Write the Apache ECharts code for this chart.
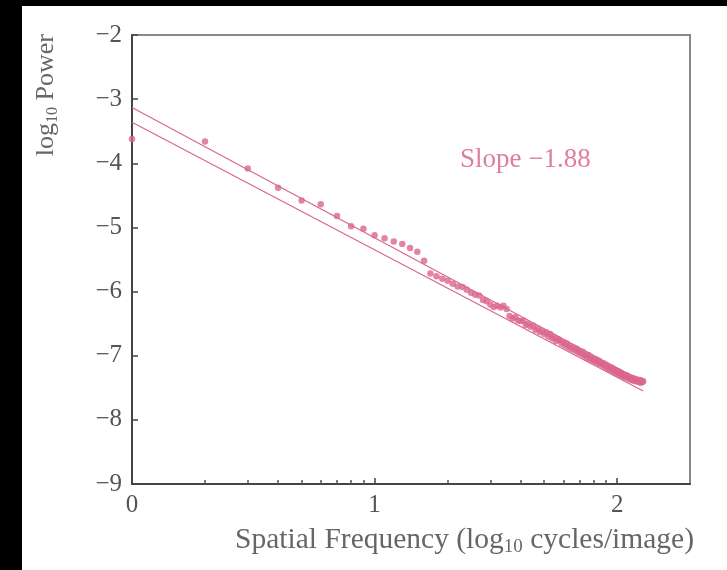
<!DOCTYPE html>
<html>
<head>
<meta charset="utf-8">
<script src="https://cdn.jsdelivr.net/npm/echarts@6/dist/echarts.min.js"></script>
<style>
html,body{margin:0;padding:0;background:#000;}
#chart{width:727px;height:570px;}
</style>
</head>
<body>
<div id="chart"></div>
<script>
// log10 spatial frequency (cycles/image) for each sample
const freqLog = [
0.000,0.301,0.477,0.602,0.699,0.778,0.845,0.903,0.954,1.000,
1.041,1.079,1.114,1.146,1.176,1.204,1.230,1.255,1.279,1.301,
1.322,1.342,1.362,1.380,1.398,1.415,1.431,1.447,1.462,1.477,
1.491,1.505,1.519,1.531,1.544,1.556,1.568,1.580,1.591,1.602,
1.613,1.623,1.633,1.643,1.653,1.663,1.672,1.681,1.690,1.699,
1.708,1.716,1.724,1.732,1.740,1.748,1.756,1.763,1.771,1.778,
1.785,1.792,1.799,1.806,1.813,1.820,1.826,1.833,1.839,1.845,
1.851,1.857,1.863,1.869,1.875,1.881,1.886,1.892,1.898,1.903,
1.908,1.914,1.919,1.924,1.929,1.934,1.940,1.944,1.949,1.954,
1.959,1.964,1.968,1.973,1.978,1.982,1.987,1.991,1.996,2.000,
2.004,2.009,2.013,2.017,2.021,2.025,2.029,2.033,2.037,2.041,
2.045,2.049,2.053,2.057,2.061,2.064,2.068,2.072,2.076,2.079,
2.083,2.086,2.090,2.093,2.097,2.100,2.104,2.107
];
// log10 power for each sample
const powerLog = [
-3.62,-3.66,-4.08,-4.38,-4.58,-4.64,-4.82,-4.98,-5.02,-5.12,
-5.17,-5.22,-5.26,-5.32,-5.38,-5.52,-5.72,-5.76,-5.80,-5.83,
-5.88,-5.92,-5.93,-5.97,-6.02,-6.05,-6.06,-6.13,-6.15,-6.20,
-6.24,-6.22,-6.25,-6.22,-6.27,-6.38,-6.42,-6.40,-6.45,-6.46,
-6.45,-6.52,-6.50,-6.55,-6.53,-6.60,-6.57,-6.63,-6.61,-6.66,
-6.64,-6.70,-6.66,-6.73,-6.71,-6.77,-6.74,-6.76,-6.81,-6.79,
-6.84,-6.81,-6.87,-6.85,-6.90,-6.87,-6.92,-6.89,-6.95,-6.93,
-6.97,-6.94,-7.00,-6.98,-7.03,-6.99,-7.05,-7.02,-7.07,-7.05,
-7.09,-7.06,-7.11,-7.08,-7.13,-7.11,-7.15,-7.12,-7.17,-7.14,
-7.19,-7.17,-7.21,-7.18,-7.23,-7.20,-7.25,-7.22,-7.27,-7.24,
-7.28,-7.25,-7.30,-7.27,-7.31,-7.29,-7.33,-7.30,-7.34,-7.31,
-7.35,-7.33,-7.37,-7.34,-7.38,-7.35,-7.39,-7.36,-7.40,-7.37,
-7.40,-7.38,-7.41,-7.38,-7.42,-7.39,-7.41,-7.40
];
// fitted lines: [x, y] end points
const upperFitX = [0, 2.107];
const upperFitY = [-3.13, -7.41];
const lowerFitX = [0, 2.107];
const lowerFitY = [-3.36, -7.55];
// axis ticks
const xMajorTicks = [0, 1, 2];
const xMinorTicks = [0.301,0.477,0.602,0.699,0.778,0.845,0.903,0.954,
                     1.301,1.477,1.602,1.699,1.778,1.845,1.903,1.954];
const yTicks = [-9,-8,-7,-6,-5,-4,-3,-2];
const slopeText = 'Slope \u22121.88';

const pink = '#d9668c';
const serif = '"Liberation Serif", "DejaVu Serif", serif';

const scatterData = freqLog.map((x, i) => [x, powerLog[i]]);
const upperData = upperFitX.map((x, i) => [x, upperFitY[i]]);
const lowerData = lowerFitX.map((x, i) => [x, lowerFitY[i]]);

const chart = echarts.init(document.getElementById('chart'), null, {renderer: 'canvas'});
chart.setOption({
  backgroundColor: '#000',
  animation: false,
  graphic: [
    {type: 'rect', z: -100, shape: {x: 22, y: 6, width: 705, height: 564}, style: {fill: '#fff'}},
    {type: 'text', z: 100, x: 460, y: 160,
      style: {text: slopeText, fill: '#e07c9e', font: '27px ' + serif, align: 'left', verticalAlign: 'middle'}},
    {type: 'text', z: 100, x: 694, y: 540,
      style: {text: '{a|Spatial Frequency (log}{s|10}{a|\u00a0cycles/image)}', align: 'right', verticalAlign: 'middle',
        rich: {a: {fontFamily: serif, fontSize: 29.5, lineHeight: 34, fill: '#666', color: '#666'},
               s: {fontFamily: serif, fontSize: 19, lineHeight: 19, verticalAlign: 'bottom', fill: '#666', color: '#666'}}}},
    {type: 'text', z: 100, x: 46, y: 34, rotation: Math.PI / 2,
      style: {text: '{a|log}{s|10}{a|\u00a0Power}', align: 'right', verticalAlign: 'middle',
        rich: {a: {fontFamily: serif, fontSize: 26, lineHeight: 29, fill: '#666', color: '#666'},
               s: {fontFamily: serif, fontSize: 16, lineHeight: 16, verticalAlign: 'bottom', fill: '#666', color: '#666'}}}}
  ],
  grid: {left: 132, top: 35, right: 37, bottom: 86, show: true, backgroundColor: '#fff', borderColor: '#888', borderWidth: 2},
  xAxis: [
    {type: 'value', min: 0, max: 2.3, interval: 1, position: 'bottom',
     axisLine: {show: true, onZero: false, lineStyle: {color: '#444', width: 2}},
     axisTick: {show: true, inside: true, length: 6, lineStyle: {color: '#444', width: 1.5}},
     splitLine: {show: false},
     axisLabel: {show: true, color: '#555', fontFamily: serif, fontSize: 25, margin: 9, showMaxLabel: false,
       formatter: v => xMajorTicks.indexOf(v) >= 0 ? String(v) : ''}},
    {type: 'value', min: 0, max: 2.3, position: 'bottom', gridIndex: 0,
     axisLine: {show: false, onZero: false},
     axisTick: {show: true, inside: true, length: 4, customValues: xMinorTicks, lineStyle: {color: '#555', width: 1.5}},
     axisLabel: {show: false, customValues: xMinorTicks},
     splitLine: {show: false}}
  ],
  yAxis: {type: 'value', min: -9, max: -2, interval: 1,
    axisLine: {show: true, onZero: false, lineStyle: {color: '#444', width: 2}},
    axisTick: {show: true, inside: true, length: 6, lineStyle: {color: '#444', width: 1.5}},
    splitLine: {show: false},
    axisLabel: {color: '#555', fontFamily: serif, fontSize: 25, margin: 10,
      formatter: v => String(v).replace('-', '\u2212')}},
  series: [
    {type: 'line', data: upperData, showSymbol: false, symbol: 'none', lineStyle: {color: pink, width: 1.2}, z: 3},
    {type: 'line', data: lowerData, showSymbol: false, symbol: 'none', lineStyle: {color: pink, width: 1.2}, z: 3},
    {type: 'scatter', data: scatterData, symbol: 'circle', symbolSize: 6.5, itemStyle: {color: pink}, z: 4}
  ]
});
</script>
</body>
</html>
